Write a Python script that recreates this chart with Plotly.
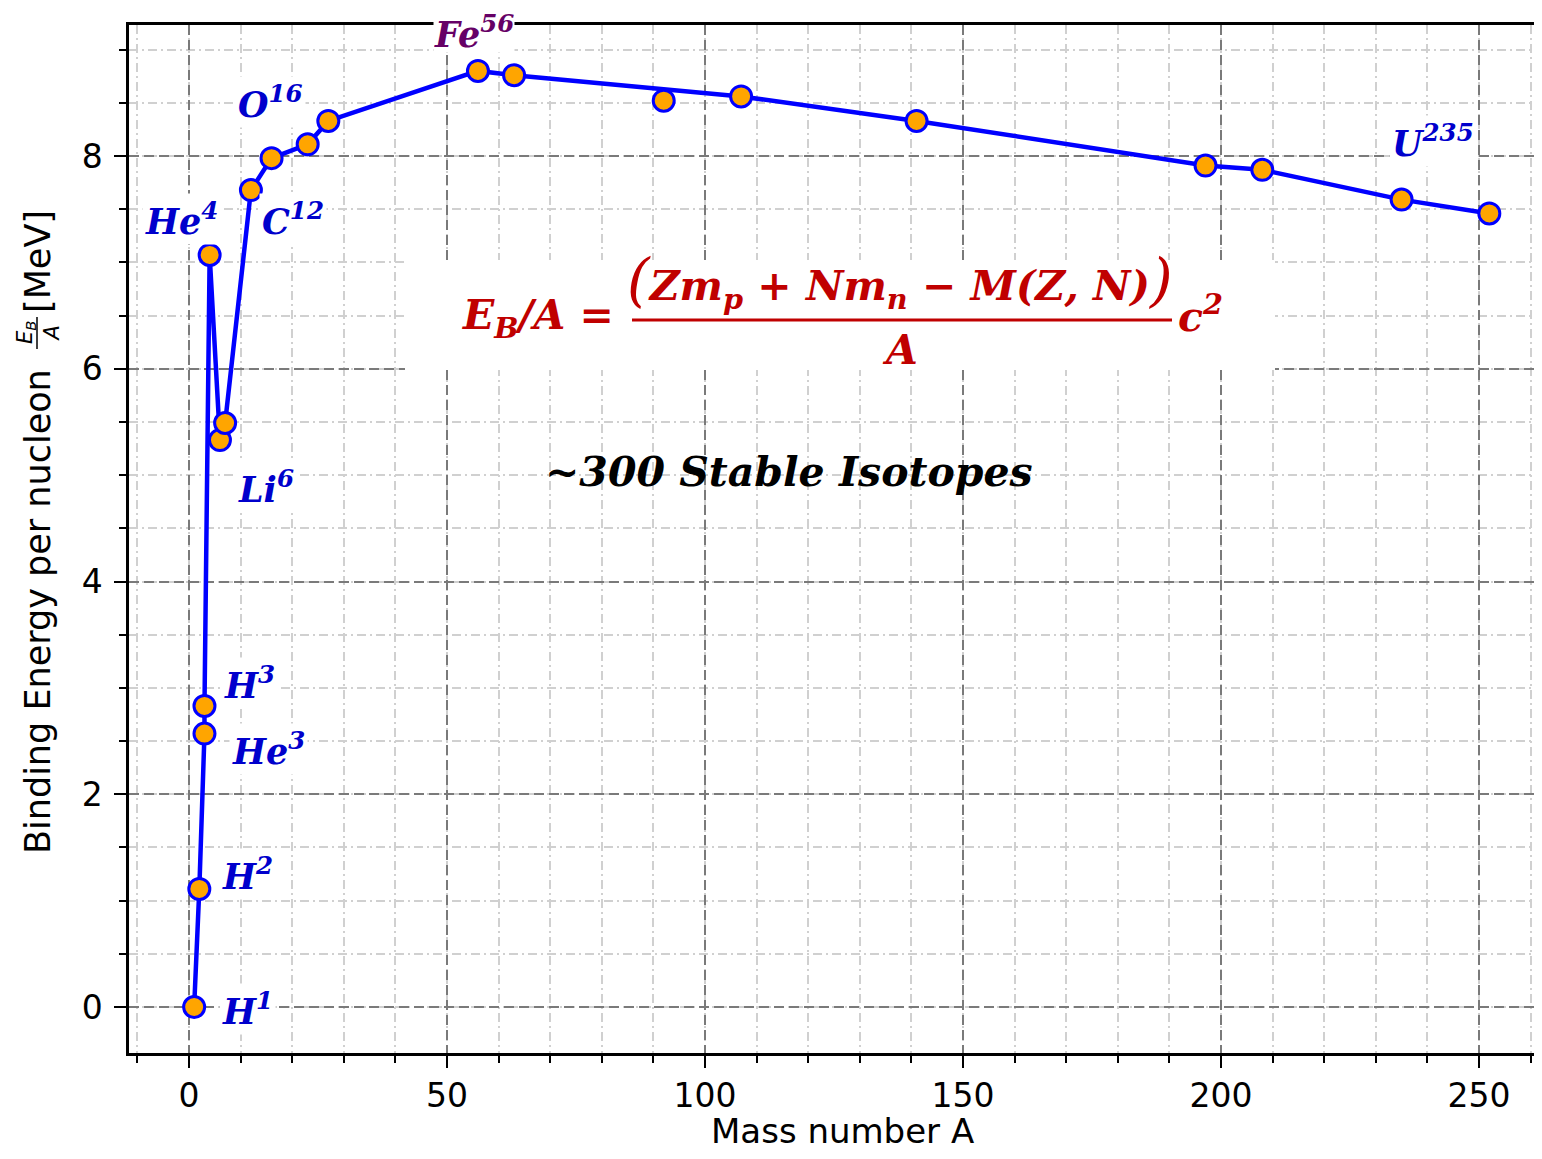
import plotly.graph_objects as go

# ---------------- data ----------------
isotopes = ["H1", "H2", "He3", "H3", "He4", "Li6", "Li7", "C12", "O16", "Na23", "Al27",
            "Fe56", "Cu63", "Zr92", "Ag107", "Pr141", "Au197", "Pb208", "U235", "Cf252"]
mass_number = [1, 2, 3, 3, 4, 6, 7, 12, 16, 23, 27, 56, 63, 92, 107, 141, 197, 208, 235, 252]
binding_energy = [0.00, 1.11, 2.57, 2.83, 7.07, 5.33, 5.49, 7.68, 7.98, 8.11, 8.33,
                  8.80, 8.76, 8.52, 8.56, 8.33, 7.91, 7.87, 7.59, 7.46]
on_curve = [True] * 13 + [False] + [True] * 6

x_ticks = [0, 50, 100, 150, 200, 250]
y_ticks = [0, 2, 4, 6, 8]

labels = {
    "H1": "H<sup>1</sup>",
    "H2": "H<sup>2</sup>",
    "He3": "He<sup>3</sup>",
    "H3": "H<sup>3</sup>",
    "He4": "He<sup>4</sup>",
    "Li6": "Li<sup>6</sup>",
    "C12": "C<sup>12</sup>",
    "O16": "O<sup>16</sup>",
    "Fe56": "Fe<sup>56</sup>",
    "U235": "U<sup>235</sup>",
}

# ---------------- layout constants ----------------
OFF = 8                      # page body margin of the html page
W, H = 1542 - 2 * OFF, 1159 - 2 * OFF
L, R, T, B = 121, W, 17, 1045          # plot area in figure pixels
PX_PER_X = 5.16
PX_PER_Y = 106.375
X0_PX, Y0_PX = 189 - OFF, 1007 - OFF  # position of data (0, 0) in figure pixels

def pxx(px):  # page pixel -> paper
    return (px - OFF - L) / (R - L)

def pxy(py):
    return (B - (py - OFF)) / (B - T)

x_range = [-(X0_PX - L) / PX_PER_X, (R - X0_PX) / PX_PER_X]
y_range = [-(B - Y0_PX) / PX_PER_Y, (Y0_PX - T) / PX_PER_Y]

BLUE_LBL = "#0000CC"
PURPLE = "#660066"
DARKRED = "#C00000"
LBL_FONT = "DejaVu Serif"

label_shift = {
    "H1": (53, -2), "H2": (48, 15), "He3": (64, -15), "H3": (45, 23),
    "He4": (-28, 36), "Li6": (46, -47), "C12": (42, -29), "O16": (-1, 56),
    "Fe56": (-4, 39), "U235": (31, 59),
}

fig = go.Figure()

line_x = [x for x, c in zip(mass_number, on_curve) if c]
line_y = [y for y, c in zip(binding_energy, on_curve) if c]

fig.add_trace(go.Scatter(x=line_x, y=line_y, mode="lines",
                         line=dict(color="#0000FF", width=4.5), hoverinfo="skip",
                         showlegend=False))
fig.add_trace(go.Scatter(x=mass_number, y=binding_energy, mode="markers",
                         marker=dict(color="#FFA500", size=21,
                                     line=dict(color="#0000FF", width=3)),
                         text=isotopes, showlegend=False))

annotations = []
for name, txt in labels.items():
    i = isotopes.index(name)
    dx, dy = label_shift[name]
    ann = dict(
        x=mass_number[i], y=binding_energy[i], xref="x", yref="y",
        text=txt, showarrow=False, xshift=dx, yshift=dy,
        xanchor="center", yanchor="middle",
        bgcolor="white", borderpad=2,
        font=dict(family=LBL_FONT, size=35, weight="bold", style="italic",
                  color=PURPLE if name == "Fe56" else BLUE_LBL),
    )
    if name == "Fe56":
        ann.update(borderpad=0, height=40)
    annotations.append(ann)

annotations.append(dict(
    x=pxx(789), y=pxy(472), xref="paper", yref="paper",
    text="~300 Stable Isotopes", showarrow=False,
    xanchor="center", yanchor="middle",
    font=dict(family=LBL_FONT, size=41, weight="bold", style="italic", color="black"),
))

ffont = dict(family=LBL_FONT, size=41, weight="bold", style="italic", color=DARKRED)
paren = "<span style='font-size:58px;font-weight:normal'>%s</span>"
annotations += [
    dict(x=pxx(616), y=pxy(318), xref="paper", yref="paper", showarrow=False,
         text="E<sub>B</sub>/A =", xanchor="right", yanchor="middle", font=ffont),
    dict(x=pxx(900), y=pxy(281), xref="paper", yref="paper", showarrow=False,
         text=(paren % "(") + "Zm<sub>p</sub> + Nm<sub>n</sub> − M(Z, N)" + (paren % ")"),
         xanchor="center", yanchor="middle", font=ffont),
    dict(x=pxx(900), y=pxy(350), xref="paper", yref="paper", showarrow=False,
         text="A", xanchor="center", yanchor="middle", font=ffont),
    dict(x=pxx(1176), y=pxy(314), xref="paper", yref="paper", showarrow=False,
         text="c<sup>2</sup>", xanchor="left", yanchor="middle", font=ffont),
]

tfont = dict(family="DejaVu Sans", size=35, color="black")
annotations += [
    dict(x=pxx(842), y=pxy(1131), xref="paper", yref="paper", showarrow=False,
         text="Mass number A", xanchor="center", yanchor="middle",
         font=dict(family="DejaVu Sans", size=34, color="black")),
    dict(x=pxx(38), y=pxy(612), xref="paper", yref="paper", showarrow=False,
         text="Binding Energy per nucleon", textangle=-90,
         xanchor="center", yanchor="middle", font=tfont),
    dict(x=pxx(38), y=pxy(333), xref="paper", yref="paper", showarrow=False,
         text="<i>E<sub>B</sub></i><br><i>A</i>", textangle=-90,
         xanchor="center", yanchor="middle",
         font=dict(family="DejaVu Sans", size=21, color="black")),
    dict(x=pxx(38), y=pxy(262), xref="paper", yref="paper", showarrow=False,
         text="[MeV]", textangle=-90,
         xanchor="center", yanchor="middle", font=tfont),
]

shapes = [
    dict(type="rect", xref="paper", yref="paper", layer="above",
         x0=pxx(405), x1=pxx(1275), y0=pxy(370), y1=pxy(260),
         fillcolor="white", line=dict(width=0)),
    dict(type="line", xref="paper", yref="paper", layer="above",
         x0=pxx(632), x1=pxx(1172), y0=pxy(320), y1=pxy(320),
         line=dict(color=DARKRED, width=3)),
    dict(type="line", xref="paper", yref="paper",
         x0=pxx(37), x1=pxx(37), y0=pxy(317), y1=pxy(349),
         line=dict(color="black", width=1.5)),
]

axis_common = dict(
    showline=True, linecolor="black", linewidth=2.5,
    ticks="outside", ticklen=12, tickwidth=2, tickcolor="black",
    showgrid=True, gridcolor="#7a7a7a", griddash="10px,5px", gridwidth=2,
    zeroline=False, automargin=False,
    tickfont=dict(family="DejaVu Sans", size=33, color="black"),
)
minor_common = dict(ticks="outside", ticklen=7, tickwidth=1.5, tickcolor="black",
                    showgrid=True, gridcolor="#d0d0d0",
                    griddash="9px,4px,2px,4px", gridwidth=2)

fig.update_xaxes(range=x_range, tickvals=x_ticks, mirror=True, ticklabelstandoff=0,
                 minor=dict(dtick=10, tick0=0, **minor_common), **axis_common)
fig.update_yaxes(range=y_range, tickvals=y_ticks, mirror=False, ticklabelstandoff=5,
                 minor=dict(dtick=0.5, tick0=0, **minor_common), **axis_common)

fig.update_layout(
    width=W, height=H,
    margin=dict(l=L, r=W - R, t=T, b=H - B, pad=0),
    plot_bgcolor="white", paper_bgcolor="white",
    annotations=annotations, shapes=shapes,
    showlegend=False,
)

fig.write_html("out.html")
